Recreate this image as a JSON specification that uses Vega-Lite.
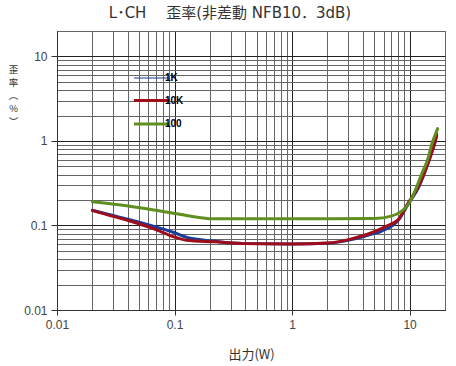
{
  "$schema": "https://vega.github.io/schema/vega-lite/v6.json",
  "width": 388,
  "height": 279,
  "autosize": {"type": "none"},
  "padding": {"left": 57, "top": 31, "right": 11, "bottom": 56},
  "background": "white",
  "title": {
    "text": "L･CH　 歪率(非差動 NFB10．3dB)",
    "font": "DejaVu Sans, Noto Sans CJK JP",
    "fontSize": 15,
    "fontWeight": "normal",
    "color": "#333333",
    "anchor": "middle",
    "dx": -21,
    "offset": 4
  },
  "config": {
    "view": {"stroke": "#333333", "strokeWidth": 1},
    "axis": {
      "labelFont": "Liberation Sans",
      "labelFontSize": 12,
      "labelColor": "#444444",
      "titleFont": "Noto Sans CJK JP",
      "titleFontWeight": "normal",
      "titleFontSize": 13,
      "titleColor": "#333333",
      "domainColor": "#333333",
      "tickColor": "#333333"
    }
  },
  "data": {
    "values": [
      {"series": "1K", "x": 0.02, "y": 0.151},
      {"series": "1K", "x": 0.03, "y": 0.131},
      {"series": "1K", "x": 0.0417, "y": 0.117},
      {"series": "1K", "x": 0.066, "y": 0.098},
      {"series": "1K", "x": 0.1, "y": 0.082},
      {"series": "1K", "x": 0.126, "y": 0.0725},
      {"series": "1K", "x": 0.219, "y": 0.065},
      {"series": "1K", "x": 0.4, "y": 0.061},
      {"series": "1K", "x": 1.0, "y": 0.0603},
      {"series": "1K", "x": 2.0, "y": 0.0615},
      {"series": "1K", "x": 3.2, "y": 0.068},
      {"series": "1K", "x": 4.75, "y": 0.079},
      {"series": "1K", "x": 5.8, "y": 0.086},
      {"series": "1K", "x": 8.0, "y": 0.115},
      {"series": "1K", "x": 9.75, "y": 0.18},
      {"series": "1K", "x": 11.9, "y": 0.28},
      {"series": "1K", "x": 13.5, "y": 0.43},
      {"series": "1K", "x": 15.4, "y": 0.72},
      {"series": "1K", "x": 16.4, "y": 0.95},
      {"series": "1K", "x": 17.0, "y": 1.15},
      {"series": "10K", "x": 0.02, "y": 0.151},
      {"series": "10K", "x": 0.03, "y": 0.128},
      {"series": "10K", "x": 0.0417, "y": 0.113},
      {"series": "10K", "x": 0.066, "y": 0.092},
      {"series": "10K", "x": 0.1, "y": 0.073},
      {"series": "10K", "x": 0.126, "y": 0.067},
      {"series": "10K", "x": 0.219, "y": 0.064},
      {"series": "10K", "x": 0.4, "y": 0.061},
      {"series": "10K", "x": 1.0, "y": 0.0605},
      {"series": "10K", "x": 2.0, "y": 0.062},
      {"series": "10K", "x": 3.2, "y": 0.0695},
      {"series": "10K", "x": 4.75, "y": 0.082},
      {"series": "10K", "x": 6.16, "y": 0.0965},
      {"series": "10K", "x": 8.0, "y": 0.118},
      {"series": "10K", "x": 9.75, "y": 0.186},
      {"series": "10K", "x": 11.9, "y": 0.29},
      {"series": "10K", "x": 13.5, "y": 0.44},
      {"series": "10K", "x": 15.4, "y": 0.73},
      {"series": "10K", "x": 16.4, "y": 0.96},
      {"series": "10K", "x": 17.0, "y": 1.2},
      {"series": "100", "x": 0.02, "y": 0.191},
      {"series": "100", "x": 0.0417, "y": 0.169},
      {"series": "100", "x": 0.1, "y": 0.139},
      {"series": "100", "x": 0.22, "y": 0.12},
      {"series": "100", "x": 0.5, "y": 0.12},
      {"series": "100", "x": 1.0, "y": 0.12},
      {"series": "100", "x": 2.0, "y": 0.12},
      {"series": "100", "x": 5.0, "y": 0.121},
      {"series": "100", "x": 7.0, "y": 0.129},
      {"series": "100", "x": 8.55, "y": 0.148},
      {"series": "100", "x": 9.75, "y": 0.177},
      {"series": "100", "x": 11.1, "y": 0.255},
      {"series": "100", "x": 12.6, "y": 0.4},
      {"series": "100", "x": 14.4, "y": 0.635},
      {"series": "100", "x": 15.4, "y": 0.91},
      {"series": "100", "x": 17.0, "y": 1.31},
      {"series": "100", "x": 17.3, "y": 1.4}
    ]
  },
  "mark": {"type": "line", "interpolate": "monotone", "strokeWidth": 3, "strokeCap": "round", "clip": true},
  "encoding": {
    "x": {
      "field": "x",
      "type": "quantitative",
      "scale": {"type": "log", "domain": [0.01, 20], "nice": false},
      "axis": {
        "title": "出力(W)",
        "values": [0.01,0.02,0.03,0.04,0.05,0.06,0.07,0.08,0.09,0.1,0.2,0.3,0.4,0.5,0.6,0.7,0.8,0.9,1,2,3,4,5,6,7,8,9,10,20],
        "labelExpr": "datum.value==0.01?'0.01':datum.value==0.1?'0.1':datum.value==1?'1':datum.value==10?'10':''",
        "grid": true,
        "gridColor": {"condition": {"test": "datum.value==0.01||datum.value==0.1||datum.value==1||datum.value==10", "value": "#222222"}, "value": "#666666"},
        "tickSize": {"condition": {"test": "datum.value==0.01||datum.value==0.1||datum.value==1||datum.value==10", "value": 5}, "value": 0},
        "labelPadding": 4,
        "labelFlush": false,
        "labelOverlap": false,
        "titlePadding": 18
      }
    },
    "y": {
      "field": "y",
      "type": "quantitative",
      "scale": {"type": "log", "domain": [0.01, 20], "nice": false},
      "axis": {
        "title": ["歪", "率", "︵", "%", "︶"],
        "titleAngle": 0,
        "titleAlign": "center",
        "titleBaseline": "top",
        "titleX": -44,
        "titleY": 33,
        "titleLineHeight": 13,
        "titleFontSize": 9.5,
        "values": [0.01,0.02,0.03,0.04,0.05,0.06,0.07,0.08,0.09,0.1,0.2,0.3,0.4,0.5,0.6,0.7,0.8,0.9,1,2,3,4,5,6,7,8,9,10,20],
        "labelExpr": "datum.value==0.01?'0.01':datum.value==0.1?'0.1':datum.value==1?'1':datum.value==10?'10':''",
        "grid": true,
        "gridColor": {"condition": {"test": "datum.value==0.01||datum.value==0.1||datum.value==1||datum.value==10", "value": "#222222"}, "value": "#666666"},
        "tickSize": {"condition": {"test": "datum.value==0.01||datum.value==0.1||datum.value==1||datum.value==10", "value": 6}, "value": 0},
        "labelPadding": 4,
        "labelFlush": false,
        "labelOverlap": false
      }
    },
    "color": {
      "field": "series",
      "type": "nominal",
      "sort": ["1K", "10K", "100"],
      "scale": {"domain": ["1K", "10K", "100"], "range": ["#1a3d99", "#a00d1a", "#5f8f1f"]},
      "legend": {
        "title": null,
        "orient": "none",
        "legendX": 90,
        "legendY": 42,
        "symbolType": "stroke",
        "symbolSize": 1300,
        "symbolStrokeWidth": 3,
        "rowPadding": 11.5,
        "labelFont": "Liberation Sans",
        "labelFontSize": 10,
        "labelFontWeight": "bold",
        "labelColor": "#000000",
        "labelOffset": 8,
        "encode": {"symbols": {"update": {"strokeWidth": {"signal": "datum.value === '1K' ? 1 : 3"}}}}
      }
    }
  }
}
